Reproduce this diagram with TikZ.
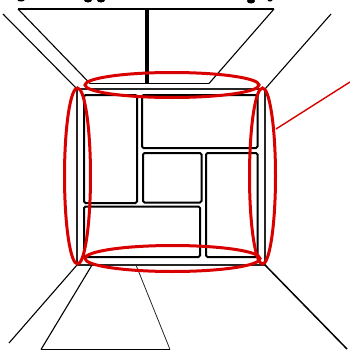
\documentclass[tikz,border=0pt]{standalone}
\tikzset{
  thinline/.style={draw=black,line width=1.1pt},
  frameline/.style={draw=black!85,line width=1.3pt},
  roombox/.style={draw=black,line width=2pt,rounded corners=1.5pt},
  redring/.style={draw=red!85!black,line width=3pt},
  redline/.style={draw=red!85!black,line width=1.4pt},
  blob/.style={fill=black,draw=none},
}
\begin{document}
\begin{tikzpicture}[x=1pt,y=-1pt]
\useasboundingbox (0,0) rectangle (350,351);
% named corners
\coordinate (oTL) at (77,89);
\coordinate (oTR) at (265,89);
\coordinate (oBR) at (265,265);
\coordinate (oBL) at (77,265);
\coordinate (dTL) at (3,14);
\coordinate (dTR) at (331,14);
\coordinate (dBL) at (9,343);
\coordinate (dBR) at (347,349);
\coordinate (tA) at (18,9);
\coordinate (tB) at (274,9);
\coordinate (tC) at (209,83.5);
\coordinate (tD) at (90,83.5);
\coordinate (tM) at (147,9);
\coordinate (tN) at (147,84);
\coordinate (bA) at (92,265);
\coordinate (bB) at (136,265);
\coordinate (bC) at (170,349.5);
\coordinate (bD) at (41,349.5);
\coordinate (rA) at (276,129);
\coordinate (rB) at (350,82);
% cropped marks along the top edge
\fill[blob] (21,0) ellipse [x radius=3.5,y radius=1.5];
\fill[blob] (88,0) ellipse [x radius=4,y radius=2.5];
\fill[blob] (101,0) ellipse [x radius=4,y radius=2.5];
\fill[blob] (251,1) ellipse [x radius=4,y radius=2.5];
\fill[blob] (270,0) ellipse [x radius=2.5,y radius=1.5];
% outer frame and diagonals
\draw[frameline] (oTL) -- (oTR) -- (oBR) -- (oBL) -- cycle;
\draw[thinline] (dTL) -- (oTL);
\draw[thinline] (dTR) -- (oTR);
\draw[thinline] (dBL) -- (oBL);
\draw[thinline,line width=1.5pt] (dBR) -- (oBR);
% trapezoids
\draw[thinline] (tD) -- (tA);
\draw[thinline] (tC) -- (tB);
\draw[black,line width=1.7pt] (tA) -- (tB);
\draw[black,line width=1.3pt] (tD) -- (tC);
\draw[black,line width=3.4pt] (tM) -- (tN);
\draw[thinline] (bA) -- (bD);
\draw[draw=black!85,line width=0.8pt] (bB) -- (bC);
\draw[black,line width=1.7pt] (bD) -- (bC);
% rooms
\draw[roombox] (84,95) rectangle (137,203);
\draw[roombox] (142,95) rectangle (257.5,148);
\draw[roombox] (143,153) rectangle (201.5,202.5);
\draw[roombox] (206,153) rectangle (257.5,257);
\draw[roombox] (84,206.5) rectangle (200,257);
% red
\draw[redring] (172,85) ellipse [x radius=87,y radius=12.5];
\draw[redring] (172.5,258.5) ellipse [x radius=87.5,y radius=13];
\draw[redring] (77.5,176) ellipse [x radius=13,y radius=88];
\draw[redring] (262.5,176) ellipse [x radius=13,y radius=88];
\draw[redline] (rA) -- (rB);
\end{tikzpicture}
\end{document}
